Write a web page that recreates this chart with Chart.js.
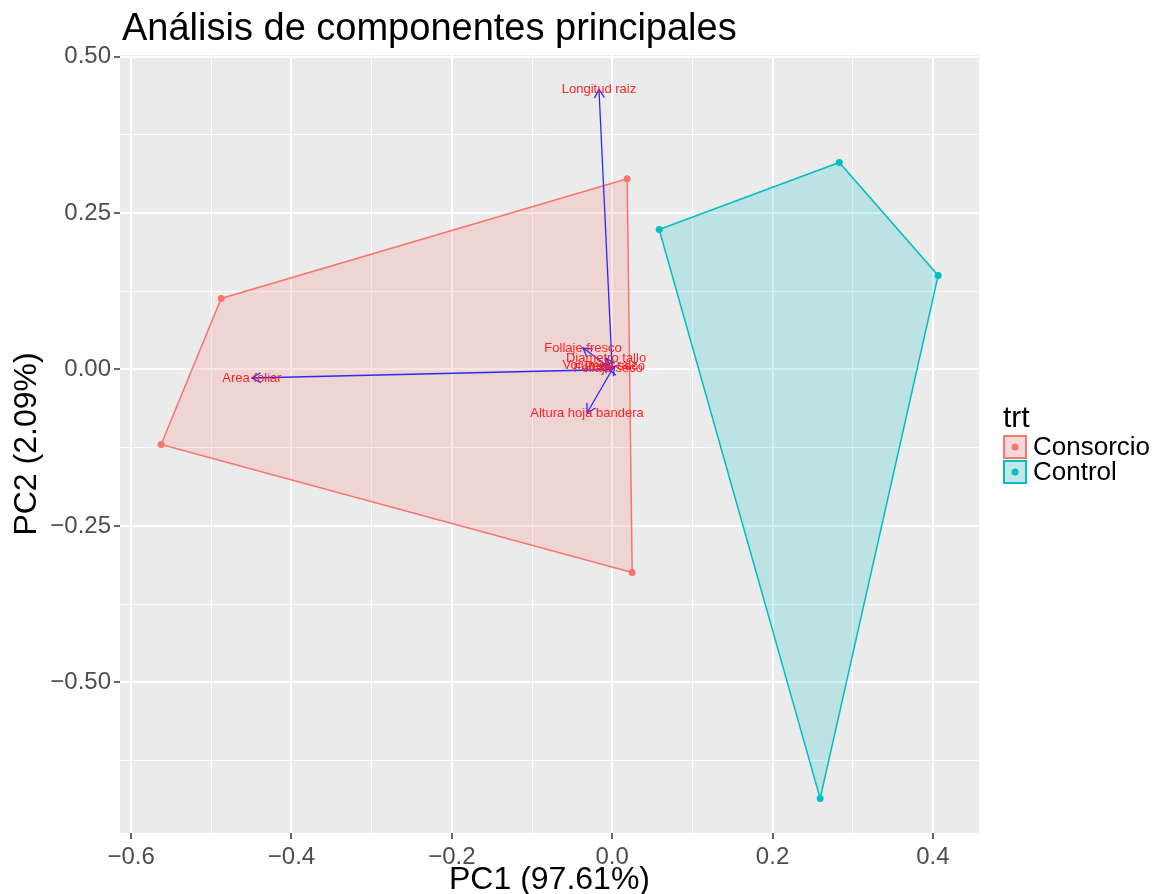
<!DOCTYPE html>
<html>
<head>
<meta charset="utf-8">
<title>Análisis de componentes principales</title>
<script src="https://cdn.jsdelivr.net/npm/chart.js@4/dist/chart.umd.min.js"></script>
<style>
  html, body { margin: 0; padding: 0; background: #ffffff; }
  canvas { display: block; }
</style>
</head>
<body>
<canvas id="pca" width="1153" height="894" style="width:1153px;height:894px"></canvas>
<script>
// ---- PCA scores per treatment (hull vertices, in drawing order) ----
const consorcioPC1 = [0.0187, -0.4877, -0.5626, 0.0249];
const consorcioPC2 = [0.3050, 0.1135, -0.1199, -0.3245];
const controlPC1 = [0.0586, 0.2832, 0.4066, 0.2594];
const controlPC2 = [0.2238, 0.3309, 0.1503, -0.6857];

// ---- variable loadings (arrow tips) ----
const varNames = ['Longitud raiz', 'Area foliar', 'Follaje fresco', 'Altura hoja bandera',
                  'Diametro tallo', 'Volumen raiz', 'Peso seco', 'Follaje seco'];
const varPC1 = [-0.0165, -0.4493, -0.0364, -0.0314, -0.0077, -0.0150, 0.0030, -0.0050];
const varPC2 = [0.4480, -0.0136, 0.0343, -0.0695, 0.0180, 0.0070, 0.0050, 0.0010];

// ---- axes ----
const xMajor = [-0.6, -0.4, -0.2, 0, 0.2, 0.4];
const xMinor = [-0.5, -0.3, -0.1, 0.1, 0.3];
const xTickLabels = ['\u22120.6', '\u22120.4', '\u22120.2', '0.0', '0.2', '0.4'];
const yMajor = [-0.5, -0.25, 0, 0.25, 0.5];
const yMinor = [-0.625, -0.375, -0.125, 0.125, 0.375];
const yTickLabels = ['\u22120.50', '\u22120.25', '0.00', '0.25', '0.50'];

const groupNames = ['Consorcio', 'Control'];
const groupColors = ['#F8766D', '#00BFC4'];
const groupFills = ['rgba(248,118,109,0.2)', 'rgba(0,191,196,0.2)'];

const FONT = '"Liberation Sans", Arial, sans-serif';
const ARROW = '#2a2aff';
const LABEL = '#ff2424';

function toPoints(xs, ys) { return xs.map((x, i) => ({ x: x, y: ys[i] })); }
function closed(pts) { return pts.concat([pts[0]]); }
function majorIndex(list, v) {
  for (let i = 0; i < list.length; i++) if (Math.abs(list[i] - v) < 1e-9) return i;
  return -1;
}

const groups = [toPoints(consorcioPC1, consorcioPC2), toPoints(controlPC1, controlPC2)];

const datasets = [];
// hull polygons
groups.forEach((pts, g) => {
  datasets.push({
    label: groupNames[g] + ' hull',
    data: closed(pts),
    showLine: true,
    fill: 'shape',
    backgroundColor: groupFills[g],
    borderColor: groupColors[g],
    borderWidth: 1.5,
    pointRadius: 0,
    tension: 0,
    order: 3
  });
});
// loading arrows (shafts)
varNames.forEach((name, i) => {
  datasets.push({
    label: name,
    data: [{ x: 0, y: 0 }, { x: varPC1[i], y: varPC2[i] }],
    showLine: true,
    fill: false,
    borderColor: ARROW,
    borderWidth: 1.3,
    pointRadius: 0,
    order: 2
  });
});
// observation points
groups.forEach((pts, g) => {
  datasets.push({
    label: groupNames[g],
    data: pts,
    showLine: false,
    backgroundColor: groupColors[g],
    borderColor: groupColors[g],
    pointRadius: 3.5,
    pointBorderWidth: 0,
    order: 1
  });
});

// arrowheads and variable names
const biplotDecor = {
  id: 'biplotDecor',
  afterDatasetsDraw(chart) {
    const { ctx, scales: { x, y } } = chart;
    ctx.save();
    ctx.strokeStyle = ARROW;
    ctx.lineWidth = 1.3;
    varNames.forEach((name, i) => {
      const x0 = x.getPixelForValue(0), y0 = y.getPixelForValue(0);
      const x1 = x.getPixelForValue(varPC1[i]), y1 = y.getPixelForValue(varPC2[i]);
      const ang = Math.atan2(y1 - y0, x1 - x0);
      const len = 10, spread = Math.PI / 6;
      ctx.beginPath();
      ctx.moveTo(x1 - len * Math.cos(ang - spread), y1 - len * Math.sin(ang - spread));
      ctx.lineTo(x1, y1);
      ctx.lineTo(x1 - len * Math.cos(ang + spread), y1 - len * Math.sin(ang + spread));
      ctx.stroke();
    });
    ctx.fillStyle = LABEL;
    ctx.font = '13px ' + FONT;
    ctx.textAlign = 'center';
    ctx.textBaseline = 'middle';
    varNames.forEach((name, i) => {
      ctx.fillText(name, x.getPixelForValue(varPC1[i]), y.getPixelForValue(varPC2[i]));
    });
    ctx.restore();
  },
  afterDraw(chart) {
    const { ctx, chartArea: a } = chart;
    ctx.save();
    ctx.fillStyle = '#000000';
    ctx.textBaseline = 'alphabetic';
    // title
    ctx.font = '38px ' + FONT;
    ctx.textAlign = 'left';
    ctx.fillText('Análisis de componentes principales', 122, 40);
    // axis titles
    ctx.font = '32px ' + FONT;
    ctx.textAlign = 'center';
    ctx.fillText('PC1 (97.61%)', (a.left + a.right) / 2, 889);
    ctx.save();
    ctx.translate(36, (a.top + a.bottom) / 2);
    ctx.rotate(-Math.PI / 2);
    ctx.fillText('PC2 (2.09%)', 0, 0);
    ctx.restore();
    // legend
    const lx = 1003;
    ctx.textAlign = 'left';
    ctx.font = '30px ' + FONT;
    ctx.fillText('trt', lx, 427);
    groupNames.forEach((name, g) => {
      const top = 435 + g * 25;
      ctx.fillStyle = '#F2F2F2';
      ctx.fillRect(lx, top, 24, 24);
      ctx.fillStyle = groupFills[g];
      ctx.fillRect(lx, top, 24, 24);
      ctx.strokeStyle = groupColors[g];
      ctx.lineWidth = 2;
      ctx.strokeRect(lx + 1, top + 1, 22, 22);
      ctx.fillStyle = groupColors[g];
      ctx.beginPath();
      ctx.arc(lx + 12, top + 12, 3.5, 0, Math.PI * 2);
      ctx.fill();
      ctx.fillStyle = '#000000';
      ctx.font = '26px ' + FONT;
      ctx.textBaseline = 'middle';
      ctx.fillText(name, lx + 30, top + 13);
      ctx.textBaseline = 'alphabetic';
    });
    ctx.restore();
  }
};

// grey panel behind the grid
const panelBg = {
  id: 'panelBg',
  beforeDraw(chart) {
    const { ctx, chartArea: a } = chart;
    ctx.save();
    ctx.fillStyle = '#EBEBEB';
    ctx.fillRect(a.left, a.top, a.right - a.left, a.bottom - a.top);
    ctx.restore();
  }
};

function axisOptions(major, minor, labels, min, max, isX) {
  return {
    type: 'linear',
    min: min,
    max: max,
    afterBuildTicks(scale) {
      scale.ticks = major.concat(minor).sort((a, b) => a - b).map(v => ({ value: v }));
    },
    afterFit(scale) {
      if (isX) scale.height = 61; else scale.width = 120;
    },
    ticks: {
      autoSkip: false,
      maxRotation: 0,
      minRotation: 0,
      padding: isX ? 4 : 3,
      color: '#4D4D4D',
      font: { family: FONT, size: 24 },
      callback(value) {
        const i = majorIndex(major, value);
        return i >= 0 ? labels[i] : '';
      }
    },
    grid: {
      color: '#FFFFFF',
      lineWidth: c => (c.tick && majorIndex(major, c.tick.value) >= 0 ? 2 : 1),
      drawTicks: true,
      tickLength: 6,
      tickWidth: 1.5,
      tickColor: c => (c.tick && majorIndex(major, c.tick.value) >= 0 ? '#333333' : 'rgba(0,0,0,0)')
    },
    border: { display: false }
  };
}

new Chart(document.getElementById('pca'), {
  type: 'scatter',
  data: { datasets: datasets },
  options: {
    responsive: false,
    animation: false,
    devicePixelRatio: 1,
    layout: { padding: { top: 55, right: 174, bottom: 0, left: 0 } },
    plugins: {
      legend: { display: false },
      title: { display: false },
      tooltip: { enabled: false },
      filler: { propagate: false }
    },
    scales: {
      x: axisOptions(xMajor, xMinor, xTickLabels, -0.6139, 0.4575, true),
      y: axisOptions(yMajor, yMinor, yTickLabels, -0.7409, 0.5027, false)
    }
  },
  plugins: [panelBg, biplotDecor]
});
</script>
</body>
</html>
